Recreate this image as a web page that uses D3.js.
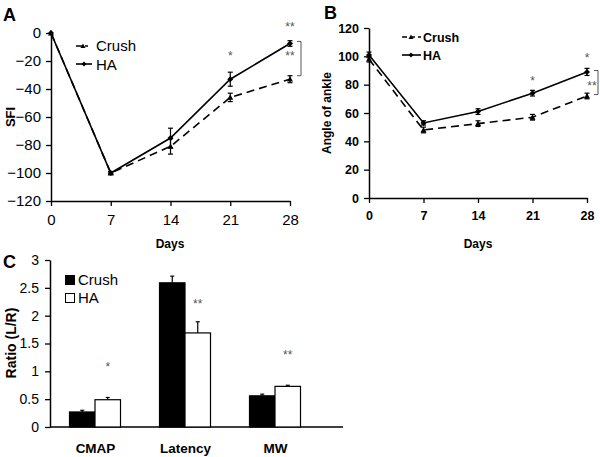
<!DOCTYPE html>
<html><head><meta charset="utf-8">
<script src="https://cdn.jsdelivr.net/npm/d3@7"></script>
<style>
html,body{margin:0;padding:0;background:#fff;}
svg{display:block;font-family:"Liberation Sans",Arial,sans-serif;}
</style></head>
<body>
<svg id="c" width="600" height="457"></svg>
<script>
// ---------- data ----------
const days = [0, 7, 14, 21, 28];
const seriesNames = ["Crush", "HA"];
const sfiCrush = [0, -100, -81, -46, -33];
const sfiCrushErr = [0, 1, 5.5, 3, 2.5];
const sfiHA = [0, -100, -75, -33, -7.5];
const sfiHAErr = [0, 1, 7, 5, 2];
const sfiTicks = [0, -20, -40, -60, -80, -100, -120];

const ankleCrush = [98, 48, 52.5, 57, 72];
const ankleCrushErr = [2, 2, 2, 2, 2];
const ankleHA = [101, 53, 61, 74, 89];
const ankleHAErr = [2, 1.5, 2, 2, 2.5];
const ankleTicks = [0, 20, 40, 60, 80, 100, 120];

const ratioCats = ["CMAP", "Latency", "MW"];
const ratioCrush = [0.27, 2.59, 0.56];
const ratioCrushErr = [0.03, 0.12, 0.03];
const ratioHA = [0.49, 1.69, 0.73];
const ratioHAErr = [0.04, 0.2, 0.02];
const ratioTicks = [0, 0.5, 1, 1.5, 2, 2.5, 3];
const ratioStars = ["*", "**", "**"];

const svg = d3.select("#c");

function styleAxis(g, fs, fw) {
  g.selectAll("path.domain").attr("stroke", "#000").attr("stroke-width", 1.5);
  g.selectAll(".tick line").attr("stroke", "#000").attr("stroke-width", 1.3);
  g.selectAll(".tick text").attr("fill", "#000").attr("font-size", fs).attr("font-weight", fw)
    .attr("font-family", "Liberation Sans, Arial, sans-serif");
}

function triangle(sel, x, y, s) {
  sel.append("path").attr("d", `M${x},${y - s}L${x + s},${y + s * 0.8}L${x - s},${y + s * 0.8}Z`).attr("fill", "#000");
}
function diamond(sel, x, y, s) {
  sel.append("path").attr("d", `M${x},${y - s}L${x + s},${y}L${x},${y + s}L${x - s},${y}Z`).attr("fill", "#000");
}

function linePanel(opt) {
  const g = svg.append("g");
  const x = d3.scaleLinear().domain([0, 28]).range(opt.xr);
  const y = d3.scaleLinear().domain(opt.yd).range(opt.yr);
  const yAxis = g.append("g").attr("transform", `translate(${opt.xr[0]},0)`)
    .call(d3.axisLeft(y).tickValues(opt.yTicks).tickSize(5).tickSizeOuter(0).tickPadding(5));
  styleAxis(yAxis, opt.yfs, opt.yfw);
  const xAxis = g.append("g").attr("transform", `translate(0,${opt.xAxisY})`)
    .call(d3.axisBottom(x).tickValues(days).tickSize(5).tickSizeOuter(0).tickPadding(opt.xPad));
  styleAxis(xAxis, opt.xfs, opt.xfw);

  const line = d3.line().x((d, i) => x(days[i])).y(d => y(d));
  const series = [
    { v: opt.crush, e: opt.crushErr, dash: "8,5", mark: triangle },
    { v: opt.ha, e: opt.haErr, dash: null, mark: diamond }
  ];
  series.forEach(s => {
    g.append("path").datum(s.v).attr("d", line).attr("fill", "none").attr("stroke", "#000")
      .attr("stroke-width", 1.6).attr("stroke-dasharray", s.dash);
    s.v.forEach((v, i) => {
      const cx = x(days[i]);
      if (s.e[i] > 0) {
        const y1 = y(v + s.e[i]), y2 = y(v - s.e[i]);
        g.append("line").attr("x1", cx).attr("x2", cx).attr("y1", y1).attr("y2", y2).attr("stroke", "#000").attr("stroke-width", 1.2);
        g.append("line").attr("x1", cx - 2.5).attr("x2", cx + 2.5).attr("y1", y1).attr("y2", y1).attr("stroke", "#000").attr("stroke-width", 1.2);
        g.append("line").attr("x1", cx - 2.5).attr("x2", cx + 2.5).attr("y1", y2).attr("y2", y2).attr("stroke", "#000").attr("stroke-width", 1.2);
      }
      s.mark(g, cx, y(v), 3);
    });
  });
  return { g, x, y };
}

// ---------- Panel A ----------
const A = linePanel({
  xr: [51, 290], yd: [-120, 0], yr: [201, 33], yTicks: sfiTicks, xAxisY: 201,
  yfs: 15, yfw: "normal", xfs: 15, xfw: "normal", xPad: 8,
  crush: sfiCrush, crushErr: sfiCrushErr, ha: sfiHA, haErr: sfiHAErr
});
A.g.append("text").attr("x", 3).attr("y", 21).attr("font-size", 18).attr("font-weight", "bold").text("A");
A.g.append("text").attr("transform", "translate(15,117) rotate(-90)").attr("text-anchor", "middle")
  .attr("font-size", 13).attr("font-weight", "bold").text("SFI");
A.g.append("text").attr("x", 170).attr("y", 248).attr("text-anchor", "middle")
  .attr("font-size", 12).attr("font-weight", "bold").text("Days");
// legend A
{
  const lg = A.g.append("g");
  lg.append("line").attr("x1", 76).attr("x2", 88).attr("y1", 46).attr("y2", 46).attr("stroke", "#000").attr("stroke-width", 1.6).attr("stroke-dasharray", "6,3");
  triangle(lg, 83, 46, 2.5);
  lg.append("text").attr("x", 96).attr("y", 51).attr("font-size", 15).text(seriesNames[0]);
  lg.append("line").attr("x1", 76).attr("x2", 92).attr("y1", 64).attr("y2", 64).attr("stroke", "#000").attr("stroke-width", 1.6);
  diamond(lg, 84, 64, 2.5);
  lg.append("text").attr("x", 96).attr("y", 70).attr("font-size", 15).text(seriesNames[1]);
}
// stars & bracket A
A.g.append("text").attr("x", A.x(21)).attr("y", A.y(-19)).attr("text-anchor", "middle").attr("font-size", 12).attr("fill", "#555").text("*");
A.g.append("text").attr("x", A.x(28)).attr("y", A.y(1.5)).attr("text-anchor", "middle").attr("font-size", 12).attr("fill", "#555").text("**");
A.g.append("text").attr("x", A.x(28)).attr("y", A.y(-19)).attr("text-anchor", "middle").attr("font-size", 12).attr("fill", "#555").text("**");
A.g.append("path").attr("d", `M${A.x(28) + 7},${A.y(-6)}H${A.x(28) + 11}V${A.y(-30.5)}H${A.x(28) + 7}`)
  .attr("fill", "none").attr("stroke", "#555").attr("stroke-width", 1);

// ---------- Panel B ----------
const B = linePanel({
  xr: [369, 587], yd: [0, 120], yr: [198, 28], yTicks: ankleTicks, xAxisY: 198,
  yfs: 12.5, yfw: "bold", xfs: 12.5, xfw: "bold", xPad: 8,
  crush: ankleCrush, crushErr: ankleCrushErr, ha: ankleHA, haErr: ankleHAErr
});
B.g.append("text").attr("x", 324).attr("y", 19).attr("font-size", 18).attr("font-weight", "bold").text("B");
B.g.append("text").attr("transform", "translate(331,113) rotate(-90)").attr("text-anchor", "middle")
  .attr("font-size", 12).attr("font-weight", "bold").text("Angle of ankle");
B.g.append("text").attr("x", 478).attr("y", 248).attr("text-anchor", "middle")
  .attr("font-size", 12).attr("font-weight", "bold").text("Days");
{
  const lg = B.g.append("g");
  lg.append("line").attr("x1", 402).attr("x2", 421).attr("y1", 37).attr("y2", 37).attr("stroke", "#000").attr("stroke-width", 1.6).attr("stroke-dasharray", "5,3");
  triangle(lg, 411, 37, 2.5);
  lg.append("text").attr("x", 423).attr("y", 41.5).attr("font-size", 12.5).attr("font-weight", "bold").text(seriesNames[0]);
  lg.append("line").attr("x1", 402).attr("x2", 421).attr("y1", 55).attr("y2", 55).attr("stroke", "#000").attr("stroke-width", 1.6);
  diamond(lg, 411, 55, 2.5);
  lg.append("text").attr("x", 423).attr("y", 59.5).attr("font-size", 12.5).attr("font-weight", "bold").text(seriesNames[1]);
}
B.g.append("text").attr("x", B.x(21)).attr("y", B.y(80)).attr("text-anchor", "middle").attr("font-size", 12).attr("fill", "#555").text("*");
B.g.append("text").attr("x", B.x(28)).attr("y", B.y(96)).attr("text-anchor", "middle").attr("font-size", 12).attr("fill", "#555").text("*");
B.g.append("text").attr("x", B.x(28) + 5).attr("y", B.y(76)).attr("text-anchor", "middle").attr("font-size", 12).attr("fill", "#555").text("**");
B.g.append("path").attr("d", `M${B.x(28) + 7},${B.y(90)}H${B.x(28) + 11}V${B.y(73)}H${B.x(28) + 7}`)
  .attr("fill", "none").attr("stroke", "#555").attr("stroke-width", 1);

// ---------- Panel C ----------
{
  const g = svg.append("g");
  const x0 = d3.scalePoint().domain(ratioCats).range([50, 320]).padding(0.5);
  const x1 = d3.scaleBand().domain(seriesNames).range([-25.5, 25.5]);
  const y = d3.scaleLinear().domain([0, 3]).range([427, 260]);
  const yAxis = g.append("g").attr("transform", "translate(50,0)")
    .call(d3.axisLeft(y).tickValues(ratioTicks).tickFormat(d3.format("")).tickSize(5).tickSizeOuter(0).tickPadding(6));
  styleAxis(yAxis, 14, "normal");
  g.append("line").attr("x1", 50).attr("x2", 343).attr("y1", y(0)).attr("y2", y(0)).attr("stroke", "#000").attr("stroke-width", 1.5);
  const xAxis = g.append("g").attr("transform", `translate(0,${y(0)})`)
    .call(d3.axisBottom(x0).tickSize(0).tickPadding(16));
  xAxis.select("path.domain").remove();
  xAxis.selectAll(".tick text").attr("fill", "#000").attr("font-size", 13.5).attr("font-weight", "bold");

  const sets = [
    { v: ratioCrush, e: ratioCrushErr, fill: "#000" },
    { v: ratioHA, e: ratioHAErr, fill: "#fff" }
  ];
  sets.forEach((s, si) => {
    ratioCats.forEach((c, i) => {
      const bx = x0(c) + x1(seriesNames[si]);
      const bw = x1.bandwidth();
      const cx = bx + bw / 2;
      const top = y(s.v[i] + s.e[i]);
      g.append("line").attr("x1", cx).attr("x2", cx).attr("y1", top).attr("y2", y(s.v[i])).attr("stroke", "#000").attr("stroke-width", 1.2);
      g.append("line").attr("x1", cx - 2).attr("x2", cx + 2).attr("y1", top).attr("y2", top).attr("stroke", "#000").attr("stroke-width", 1.2);
      g.append("rect").attr("x", bx).attr("y", y(s.v[i])).attr("width", bw).attr("height", y(0) - y(s.v[i]))
        .attr("fill", s.fill).attr("stroke", "#000").attr("stroke-width", 1.2);
    });
  });
  ratioCats.forEach((c, i) => {
    const cx = x0(c) + x1(seriesNames[1]) + x1.bandwidth() / 2;
    g.append("text").attr("x", cx).attr("y", y(ratioHA[i] + ratioHAErr[i]) - (i === 1 ? 14 : 26))
      .attr("text-anchor", "middle").attr("font-size", 12).attr("fill", "#555").text(ratioStars[i]);
  });
  g.append("text").attr("x", 3).attr("y", 268).attr("font-size", 18).attr("font-weight", "bold").text("C");
  g.append("text").attr("transform", "translate(16,343) rotate(-90)").attr("text-anchor", "middle")
    .attr("font-size", 14).attr("font-weight", "bold").text("Ratio (L/R)");
  // legend
  g.append("rect").attr("x", 65).attr("y", 275).attr("width", 10).attr("height", 10).attr("fill", "#000");
  g.append("text").attr("x", 78).attr("y", 285).attr("font-size", 15).text(seriesNames[0]);
  g.append("rect").attr("x", 65.5).attr("y", 293.5).attr("width", 9).attr("height", 9).attr("fill", "#fff").attr("stroke", "#000").attr("stroke-width", 1);
  g.append("text").attr("x", 78).attr("y", 303).attr("font-size", 15).text(seriesNames[1]);
}
</script>
</body></html>
